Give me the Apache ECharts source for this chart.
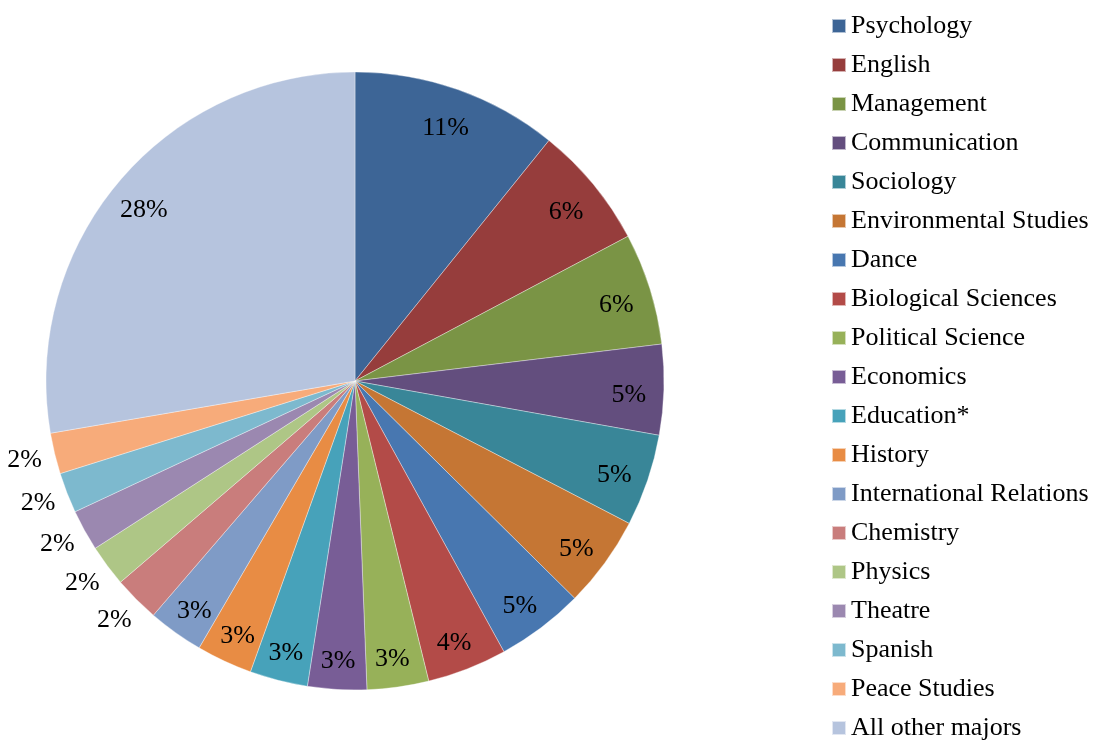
<!DOCTYPE html>
<html>
<head>
<meta charset="utf-8">
<script src="https://cdn.jsdelivr.net/npm/echarts@6/dist/echarts.min.js"></script>
<style>
html,body{margin:0;padding:0;background:#fff;}
#chart{width:1098px;height:740px;}
</style>
</head>
<body>
<div id="chart"></div>
<script>
const majors = ["Psychology","English","Management","Communication","Sociology","Environmental Studies","Dance","Biological Sciences","Political Science","Economics","Education*","History","International Relations","Chemistry","Physics","Theatre","Spanish","Peace Studies","All other majors"];
const shares = [10.8,6.44,5.85,4.72,4.81,4.79,4.58,4.17,3.22,3.08,3.03,2.92,2.9,2.4,2.18,2.15,2.11,2.14,27.7];
const colors = ["#3D6596","#963D3C","#7A9445","#634E7E","#398698","#C57634","#4877B0","#B34B48","#97B159","#785D96","#47A2BA","#E88C44","#7F9BC6","#C97D7C","#AEC686","#9B88B0","#7DB9CE","#F7AB7A","#B6C4DE"];
const outsideLabel = [false,false,false,false,false,false,false,false,false,false,false,false,false,true,true,true,true,true,false];

const font = "'Liberation Serif','Times New Roman',serif";
const data = majors.map((n,i)=>({name:n, value:shares[i], itemStyle:{color:colors[i]}}));
const ghost = majors.map((n,i)=>({name:n, value:shares[i], itemStyle:{color:'rgba(0,0,0,0)'}}));
const center = [355, 381];

const chart = echarts.init(document.getElementById('chart'), null, {renderer:'canvas'});
chart.setOption({
  animation:false,
  backgroundColor:'#fff',
  legend:{
    orient:'vertical', left:831, top:13, height:738, padding:0,
    itemWidth:14, itemHeight:14, itemGap:13,
    icon:'rect',
    selectedMode:false,
    textStyle:{fontFamily:font, fontSize:26, lineHeight:26, color:'#000'},
    data: majors.map((n,i)=>({name:n, itemStyle:{color:colors[i]}}))
  },
  series:[
    {
      type:'pie', center:center, radius:309, startAngle:90, clockwise:true,
      silent:true, label:{show:false}, labelLine:{show:false},
      itemStyle:{borderColor:'rgba(255,255,255,0.6)', borderWidth:0.6},
      data:data
    },
    {
      type:'pie', center:center, radius:[258,286], startAngle:90, clockwise:true,
      silent:true, labelLine:{show:false},
      label:{show:true, position:'inside', fontFamily:font, fontSize:26, color:'#000', offset:[-1,6],
        formatter:p=> outsideLabel[p.dataIndex] ? '' : Math.round(p.percent)+'%'},
      data:ghost
    },
    {
      type:'pie', center:center, radius:[326,348], startAngle:90, clockwise:true,
      silent:true, labelLine:{show:false},
      label:{show:true, position:'inside', fontFamily:font, fontSize:26, color:'#000', offset:[0,-1],
        formatter:p=> outsideLabel[p.dataIndex] ? Math.round(p.percent)+'%' : ''},
      data:ghost
    }
  ]
});
</script>
</body>
</html>
